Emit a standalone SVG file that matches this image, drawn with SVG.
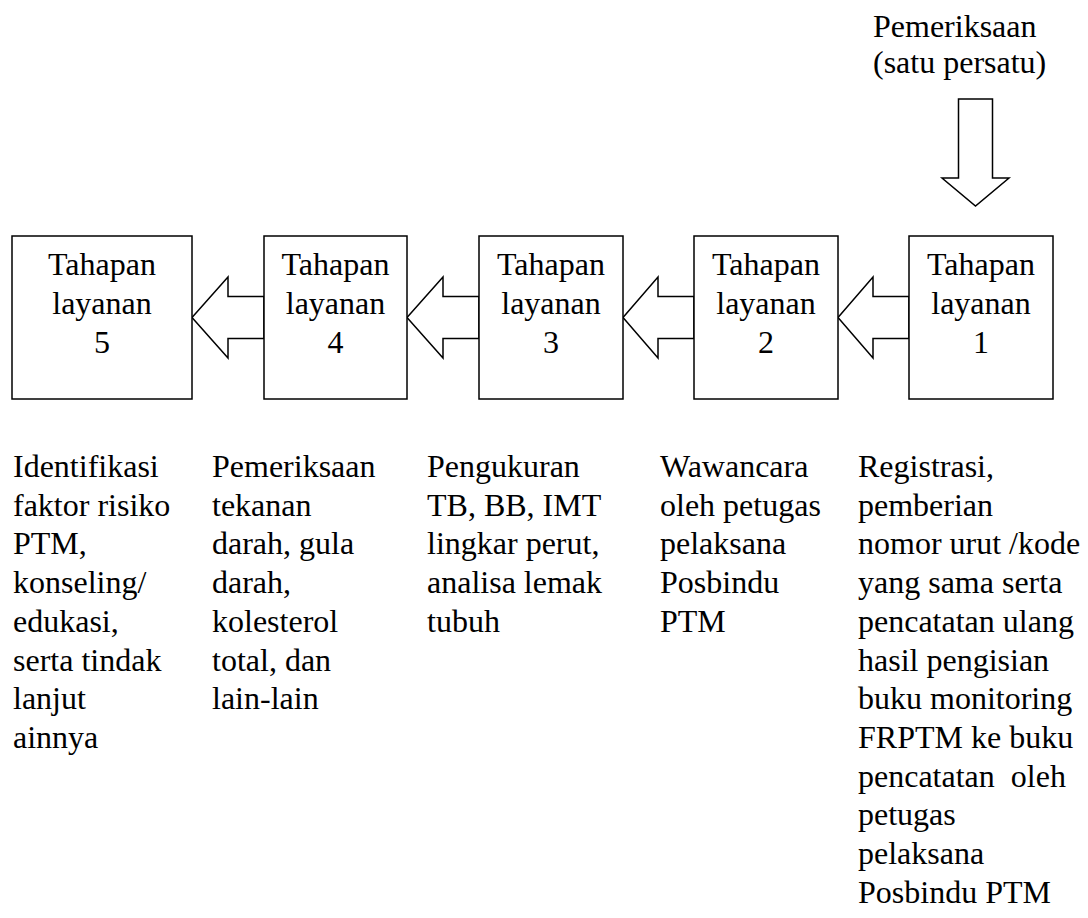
<svg xmlns="http://www.w3.org/2000/svg" width="1088" height="918" viewBox="0 0 1088 918">
<style>
text{font-family:'Liberation Serif','Times New Roman',serif;font-size:32px;fill:#000}
.c{text-anchor:middle}
.box{fill:#fff;stroke:#000;stroke-width:1.5}
.arr{fill:#fff;stroke:#000;stroke-width:1.5;stroke-linejoin:miter}
</style>
<rect width="1088" height="918" fill="#fff"/>
<g id="connectors">
<polygon class="arr" points="192,317.5 228,277 228,296.5 264,296.5 264,338.5 228,338.5 228,358"/>
<polygon class="arr" points="407,317.5 443,277 443,296.5 479,296.5 479,338.5 443,338.5 443,358"/>
<polygon class="arr" points="623,317.5 658,277 658,296.5 694,296.5 694,338.5 658,338.5 658,358"/>
<polygon class="arr" points="838,317.5 873,277 873,296.5 909,296.5 909,338.5 873,338.5 873,358"/>
<polygon class="arr" points="958.5,99 992.5,99 992.5,178 1009,178 975.5,206 942,178 958.5,178"/>
</g>
<g id="top-label" font-family="Liberation Serif, serif">
<text x="873" y="37">Pemeriksaan</text>
<text x="873" y="73">(satu persatu)</text>
</g>
<g id="node5" font-family="Liberation Serif, serif">
<rect class="box" x="12" y="236" width="180" height="163"/>
<text class="c" x="102" y="275">Tahapan</text>
<text class="c" x="102" y="314">layanan</text>
<text class="c" x="102" y="353">5</text>
</g>
<g id="node4" font-family="Liberation Serif, serif">
<rect class="box" x="264" y="236" width="143" height="163"/>
<text class="c" x="335.5" y="275">Tahapan</text>
<text class="c" x="335.5" y="314">layanan</text>
<text class="c" x="335.5" y="353">4</text>
</g>
<g id="node3" font-family="Liberation Serif, serif">
<rect class="box" x="479" y="236" width="144" height="163"/>
<text class="c" x="551" y="275">Tahapan</text>
<text class="c" x="551" y="314">layanan</text>
<text class="c" x="551" y="353">3</text>
</g>
<g id="node2" font-family="Liberation Serif, serif">
<rect class="box" x="694" y="236" width="144" height="163"/>
<text class="c" x="766" y="275">Tahapan</text>
<text class="c" x="766" y="314">layanan</text>
<text class="c" x="766" y="353">2</text>
</g>
<g id="node1" font-family="Liberation Serif, serif">
<rect class="box" x="909" y="236" width="144" height="163"/>
<text class="c" x="981" y="275">Tahapan</text>
<text class="c" x="981" y="314">layanan</text>
<text class="c" x="981" y="353">1</text>
</g>
<g id="desc5">
<text x="13" y="477">Identifikasi</text>
<text x="13" y="515.7">faktor risiko</text>
<text x="13" y="554.4">PTM,</text>
<text x="13" y="593.1">konseling/</text>
<text x="13" y="631.8">edukasi,</text>
<text x="13" y="670.5">serta tindak</text>
<text x="13" y="709.2">lanjut</text>
<text x="13" y="747.9">ainnya</text>
</g>
<g id="desc4">
<text x="212" y="477">Pemeriksaan</text>
<text x="212" y="515.7">tekanan</text>
<text x="212" y="554.4">darah, gula</text>
<text x="212" y="593.1">darah,</text>
<text x="212" y="631.8">kolesterol</text>
<text x="212" y="670.5">total, dan</text>
<text x="212" y="709.2">lain-lain</text>
</g>
<g id="desc3">
<text x="427" y="477">Pengukuran</text>
<text x="427" y="515.7">TB, BB, IMT</text>
<text x="427" y="554.4">lingkar perut,</text>
<text x="427" y="593.1">analisa lemak</text>
<text x="427" y="631.8">tubuh</text>
</g>
<g id="desc2">
<text x="660" y="477">Wawancara</text>
<text x="660" y="515.7">oleh petugas</text>
<text x="660" y="554.4">pelaksana</text>
<text x="660" y="593.1">Posbindu</text>
<text x="660" y="631.8">PTM</text>
</g>
<g id="desc1">
<text x="858" y="477">Registrasi,</text>
<text x="858" y="515.7">pemberian</text>
<text x="858" y="554.4">nomor urut /kode</text>
<text x="858" y="593.1">yang sama serta</text>
<text x="858" y="631.8">pencatatan ulang</text>
<text x="858" y="670.5">hasil pengisian</text>
<text x="858" y="709.2">buku monitoring</text>
<text x="858" y="747.9">FRPTM ke buku</text>
<text x="858" y="786.6" xml:space="preserve">pencatatan  oleh</text>
<text x="858" y="825.3">petugas</text>
<text x="858" y="864">pelaksana</text>
<text x="858" y="902.7">Posbindu PTM</text>
</g>
</svg>
